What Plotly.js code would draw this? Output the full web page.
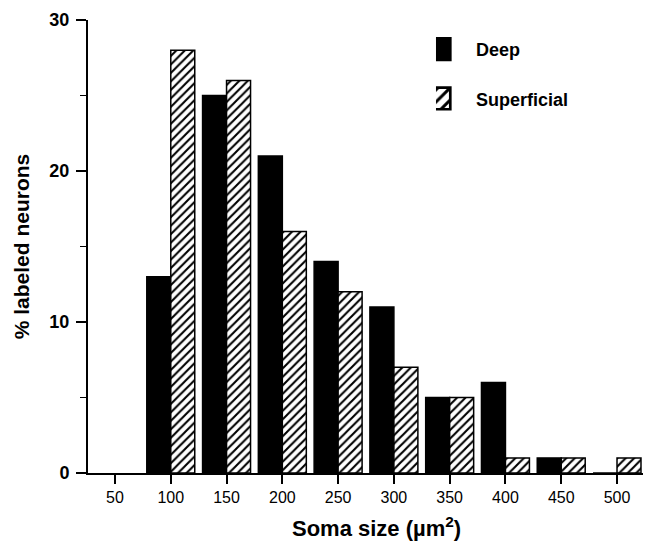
<!DOCTYPE html>
<html>
<head>
<meta charset="utf-8">
<script src="https://cdn.plot.ly/plotly-3.0.1.min.js"></script>
<style>
html,body{margin:0;padding:0;background:#fff;}
#chart{width:645px;height:548px;}
</style>
</head>
<body>
<div id="chart"></div>
<script>
const somaSize = [100, 150, 200, 250, 300, 350, 400, 450, 500];
const deepPct = [13, 25, 21, 14, 11, 5, 6, 1, 0];
const superficialPct = [28, 26, 16, 12, 7, 5, 1, 1, 1];
const xTickVals = [50, 100, 150, 200, 250, 300, 350, 400, 450, 500];
const yTickVals = [0, 10, 20, 30];

const traces = [
  {
    type: 'bar', name: 'Deep', x: somaSize, y: deepPct,
    legendgroup: 'd',
    marker: {color: '#000', line: {color: '#000', width: 1.5}},
    hoverinfo: 'skip'
  },
  {
    type: 'bar', name: 'Superficial', x: somaSize, y: superficialPct,
    legendgroup: 's',
    marker: {color: '#fff', line: {color: '#000', width: 1.5},
      pattern: {shape: '/', fgcolor: '#000', bgcolor: '#fff', size: 6, solidity: 0.35}},
    hoverinfo: 'skip'
  }
];

const layout = {
  width: 645, height: 548,
  margin: {l: 88, r: 2, t: 20, b: 75},
  paper_bgcolor: '#fff', plot_bgcolor: '#fff',
  font: {family: 'Liberation Sans, Arial, sans-serif', color: '#000'},
  barmode: 'group', bargap: 0.14, bargroupgap: 0,
  showlegend: true,
  legend: {x: 0.627, xanchor: 'left', y: 0.976, yanchor: 'top', bgcolor: 'rgba(0,0,0,0)',
    font: {size: 18, family: 'Liberation Sans, Arial, sans-serif', weight: 'bold'},
    tracegroupgap: 23, traceorder: 'grouped'},
  xaxis: {
    range: [25.8, 523.3], tickvals: xTickVals, ticktext: xTickVals.map(String),
    ticks: 'outside', ticklen: 9, tickwidth: 2, tickcolor: '#000',
    showline: true, linecolor: '#000', linewidth: 2, showgrid: false, zeroline: false,
    tickfont: {size: 16, family: 'Liberation Sans Narrow, Arial Narrow, Liberation Sans, sans-serif'}
  },
  yaxis: {
    range: [0, 30], tickvals: yTickVals, ticktext: yTickVals.map(String),
    ticks: 'outside', ticklen: 10, tickwidth: 2, tickcolor: '#000',
    minor: {dtick: 5, ticks: 'outside', ticklen: 6, tickwidth: 1.5, tickcolor: '#000', showgrid: false},
    showline: true, linecolor: '#000', linewidth: 2, showgrid: false, zeroline: false,
    tickfont: {size: 18, weight: 'bold'}, ticklabelstandoff: 3,
    title: {text: '% labeled neurons', font: {size: 21, weight: 'bold'}, standoff: 14}
  },
  annotations: [{
    xref: 'paper', yref: 'paper', x: 0.5207, y: -0.119, xanchor: 'center', yanchor: 'middle',
    text: 'Soma size (µm<sup>2</sup>)', showarrow: false,
    font: {size: 22, weight: 'bold', family: 'Liberation Sans, Arial, sans-serif', color: '#000'}
  }]
};

Plotly.newPlot('chart', traces, layout, {displayModeBar: false, staticPlot: true}).then(function(gd){
  gd.querySelectorAll('.legend .legendpoints path').forEach(function(p){
    p.setAttribute('transform', 'translate(3.5,0) scale(1.8)');
  });
});
</script>
</body>
</html>
